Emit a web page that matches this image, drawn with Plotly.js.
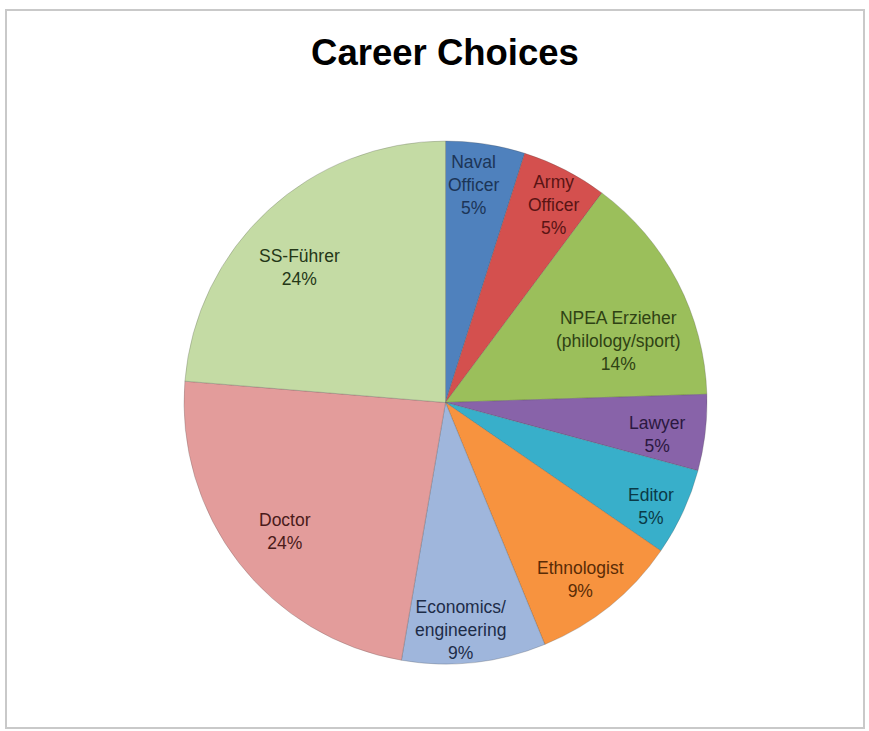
<!DOCTYPE html>
<html>
<head>
<meta charset="utf-8">
<script src="https://cdn.plot.ly/plotly-3.0.1.min.js"></script>
<style>
  html, body { margin: 0; padding: 0; background: #ffffff; }
  #chart { width: 869px; height: 731px; }
</style>
</head>
<body>
<div id="chart"></div>
<script>
// ---- Data ----
const categories = ["Naval Officer", "Army Officer", "NPEA Erzieher (philology/sport)", "Lawyer", "Editor",
                    "Ethnologist", "Economics/ engineering", "Doctor", "SS-Führer"];
const labelLines = ["Naval<br>Officer", "Army<br>Officer", "NPEA Erzieher<br>(philology/sport)", "Lawyer", "Editor",
                    "Ethnologist", "Economics/<br>engineering", "Doctor", "SS-Führer"];
const shares = [4.9, 5.3, 14.3, 4.7, 5.4, 9.2, 8.9, 23.6, 23.7];

// ---- Styles ----
const sliceColors = ["#4f81bd", "#d4504e", "#9bbf5b", "#8863a9", "#38afca", "#f7933f", "#9fb6dc", "#e39c9b", "#c4dba4"];
const textColors  = ["#1c3557", "#5a1414", "#2f4214", "#2b1840", "#0b3a47", "#5a2c06", "#1d2c48", "#4a1a1a", "#243717"];
// label placement: fraction of radius and angular nudge (deg)
const labelRadius = [0.84, 0.86, 0.70, 0.82, 0.88, 0.85, 0.87, 0.79, 0.76];
const labelNudge  = [-1.5, 1.5, 8, 2, 2, 1.5, 2.5, -1, -4.5];

const W = 869, H = 731;
const cx = 445.5, cy = 402.5, R = 261.5;

const total = shares.reduce((a, b) => a + b, 0);
const annotations = [];
let cum = 0;
shares.forEach((v, i) => {
  const mid = (cum + v / 2) / total * 360 + labelNudge[i];
  cum += v;
  const rad = mid * Math.PI / 180;
  const r = R * labelRadius[i];
  const px = cx + r * Math.sin(rad);
  const py = cy - r * Math.cos(rad);
  annotations.push({
    xref: "paper", yref: "paper",
    x: px / W, y: 1 - py / H,
    xanchor: "center", yanchor: "middle",
    showarrow: false,
    align: "center",
    text: labelLines[i] + "<br>" + Math.round(v / total * 100) + "%",
    font: { family: "Liberation Sans, Arial, sans-serif", size: 17.5, color: textColors[i] }
  });
});

const trace = {
  type: "pie",
  labels: categories,
  values: shares,
  sort: false,
  direction: "clockwise",
  rotation: 0,
  textinfo: "none",
  hoverinfo: "label+percent",
  marker: { colors: sliceColors, line: { color: "rgba(70,70,70,0.25)", width: 1 } },
  domain: { x: [(cx - R) / W, (cx + R) / W], y: [1 - (cy + R) / H, 1 - (cy - R) / H] },
  showlegend: false
};

const layout = {
  width: W, height: H,
  margin: { l: 0, r: 0, t: 0, b: 0 },
  paper_bgcolor: "#ffffff",
  showlegend: false,
  title: {
    text: "<b>Career Choices</b>",
    font: { family: "Liberation Sans, Arial, sans-serif", size: 36.5, color: "#000000" },
    x: 445 / W, xanchor: "center", xref: "container",
    y: 1 - 52 / H, yanchor: "middle", yref: "container"
  },
  annotations: annotations,
  shapes: [{
    type: "rect", xref: "paper", yref: "paper",
    x0: 6 / W, x1: 864 / W, y0: 1 - 728 / H, y1: 1 - 10 / H,
    line: { color: "#c9c9c9", width: 2 }, fillcolor: "rgba(0,0,0,0)", layer: "below"
  }]
};

Plotly.newPlot("chart", [trace], layout, { displayModeBar: false, staticPlot: true });
</script>
</body>
</html>
